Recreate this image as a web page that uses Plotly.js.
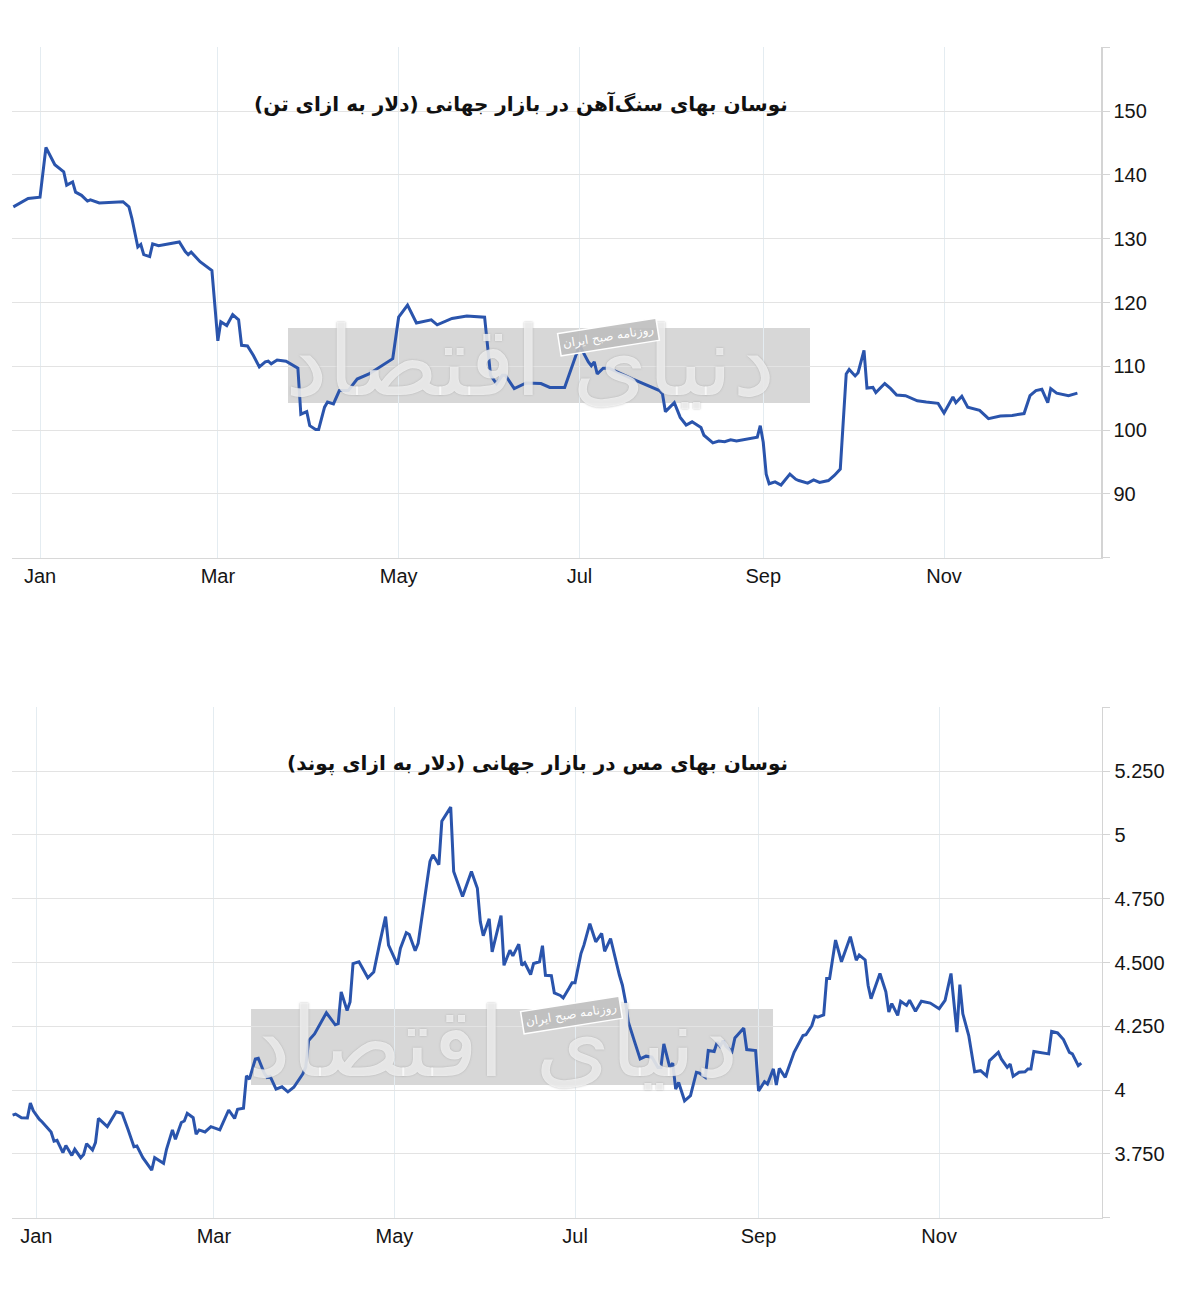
<!DOCTYPE html>
<html>
<head>
<meta charset="utf-8">
<script src="https://cdn.plot.ly/plotly-3.0.1.min.js"></script>
<style>html,body{margin:0;padding:0;background:#fff;}#chart{width:1200px;height:1289px;}</style>
</head>
<body>
<div id="chart"></div>
<script>
// ---- Iron ore (USD per tonne) ----
var ironDates = ["2023-12-23","2023-12-25","2023-12-28","2024-01-01","2024-01-03","2024-01-06","2024-01-09","2024-01-10","2024-01-12","2024-01-13","2024-01-15","2024-01-17","2024-01-18","2024-01-21","2024-01-29","2024-01-31","2024-02-01","2024-02-03","2024-02-04","2024-02-05","2024-02-07","2024-02-08","2024-02-10","2024-02-17","2024-02-19","2024-02-20","2024-02-21","2024-02-24","2024-02-28","2024-03-01","2024-03-02","2024-03-04","2024-03-06","2024-03-08","2024-03-09","2024-03-11","2024-03-13","2024-03-15","2024-03-17","2024-03-18","2024-03-19","2024-03-21","2024-03-24","2024-03-28","2024-03-29","2024-03-31","2024-04-01","2024-04-03","2024-04-04","2024-04-06","2024-04-07","2024-04-09","2024-04-11","2024-04-14","2024-04-17","2024-04-21","2024-04-29","2024-05-01","2024-05-04","2024-05-07","2024-05-12","2024-05-14","2024-05-19","2024-05-24","2024-05-30","2024-06-01","2024-06-03","2024-06-05","2024-06-06","2024-06-09","2024-06-13","2024-06-18","2024-06-21","2024-06-26","2024-07-01","2024-07-04","2024-07-05","2024-07-06","2024-07-07","2024-07-09","2024-07-11","2024-07-19","2024-07-28","2024-07-29","2024-07-30","2024-08-02","2024-08-04","2024-08-06","2024-08-08","2024-08-11","2024-08-12","2024-08-15","2024-08-17","2024-08-19","2024-08-21","2024-08-23","2024-08-30","2024-08-31","2024-09-01","2024-09-02","2024-09-03","2024-09-05","2024-09-07","2024-09-10","2024-09-12","2024-09-13","2024-09-16","2024-09-18","2024-09-20","2024-09-23","2024-09-25","2024-09-27","2024-09-29","2024-09-30","2024-10-02","2024-10-03","2024-10-05","2024-10-06","2024-10-08","2024-10-09","2024-10-12","2024-10-14","2024-10-16","2024-10-19","2024-10-23","2024-10-26","2024-10-30","2024-11-01","2024-11-04","2024-11-05","2024-11-07","2024-11-09","2024-11-13","2024-11-16","2024-11-20","2024-11-24","2024-11-28","2024-11-30","2024-12-02","2024-12-04","2024-12-06","2024-12-07","2024-12-09","2024-12-13","2024-12-16"];
var ironValues = [135.0,135.5,136.3,136.5,144.3,141.6,140.5,138.4,138.9,137.3,136.8,135.9,136.1,135.6,135.8,135.0,133.2,128.7,129.1,127.5,127.2,129.2,128.9,129.5,128.0,127.5,127.9,126.4,125.0,114.0,117.0,116.4,118.1,117.3,113.3,113.2,111.7,109.9,110.7,110.8,110.4,111.0,110.8,109.7,102.5,102.9,100.7,100.1,100.1,103.6,104.4,104.1,106.2,106.2,108.0,108.8,111.2,117.7,119.6,116.8,117.3,116.5,117.5,117.9,117.7,108.6,107.3,108.6,108.6,106.5,107.4,107.3,106.7,106.7,113.3,110.7,110.1,110.7,108.8,109.7,109.7,108.0,106.2,105.7,102.9,104.3,102.0,100.8,101.3,100.4,99.2,98.0,98.3,98.2,98.5,98.3,98.9,100.7,98.1,93.1,91.6,91.9,91.4,93.1,92.3,92.1,91.7,92.2,91.8,92.1,92.9,93.9,108.8,109.5,108.5,109.0,112.5,106.6,106.7,105.9,107.3,106.5,105.5,105.4,104.6,104.4,104.2,102.7,105.2,104.3,105.3,103.6,103.1,101.8,102.2,102.3,102.6,105.4,106.2,106.4,104.3,106.5,105.8,105.4,105.8];

// ---- Copper (USD per pound) ----
var copperDates = ["2023-12-24","2023-12-25","2023-12-27","2023-12-29","2023-12-30","2023-12-31","2024-01-02","2024-01-03","2024-01-06","2024-01-07","2024-01-08","2024-01-10","2024-01-11","2024-01-13","2024-01-14","2024-01-16","2024-01-17","2024-01-18","2024-01-20","2024-01-21","2024-01-22","2024-01-25","2024-01-28","2024-01-30","2024-02-01","2024-02-03","2024-02-04","2024-02-06","2024-02-09","2024-02-10","2024-02-13","2024-02-14","2024-02-16","2024-02-17","2024-02-19","2024-02-20","2024-02-21","2024-02-23","2024-02-24","2024-02-25","2024-02-27","2024-02-29","2024-03-03","2024-03-06","2024-03-08","2024-03-09","2024-03-11","2024-03-12","2024-03-13","2024-03-15","2024-03-16","2024-03-18","2024-03-19","2024-03-20","2024-03-22","2024-03-24","2024-03-26","2024-03-28","2024-03-31","2024-04-01","2024-04-02","2024-04-04","2024-04-08","2024-04-11","2024-04-12","2024-04-13","2024-04-15","2024-04-16","2024-04-17","2024-04-19","2024-04-22","2024-04-24","2024-04-26","2024-04-28","2024-04-29","2024-05-02","2024-05-03","2024-05-05","2024-05-06","2024-05-08","2024-05-09","2024-05-11","2024-05-13","2024-05-14","2024-05-16","2024-05-17","2024-05-20","2024-05-21","2024-05-24","2024-05-27","2024-05-29","2024-05-30","2024-05-31","2024-06-02","2024-06-03","2024-06-06","2024-06-07","2024-06-09","2024-06-10","2024-06-12","2024-06-13","2024-06-14","2024-06-16","2024-06-17","2024-06-19","2024-06-20","2024-06-21","2024-06-23","2024-06-24","2024-06-26","2024-06-27","2024-06-29","2024-06-30","2024-07-01","2024-07-03","2024-07-04","2024-07-06","2024-07-08","2024-07-10","2024-07-11","2024-07-13","2024-07-16","2024-07-17","2024-07-18","2024-07-19","2024-07-21","2024-07-23","2024-07-25","2024-07-27","2024-07-29","2024-07-30","2024-07-31","2024-08-02","2024-08-03","2024-08-04","2024-08-05","2024-08-07","2024-08-09","2024-08-11","2024-08-12","2024-08-14","2024-08-15","2024-08-17","2024-08-18","2024-08-19","2024-08-20","2024-08-21","2024-08-23","2024-08-24","2024-08-27","2024-08-28","2024-08-31","2024-09-01","2024-09-03","2024-09-04","2024-09-06","2024-09-07","2024-09-08","2024-09-10","2024-09-13","2024-09-16","2024-09-17","2024-09-19","2024-09-20","2024-09-21","2024-09-23","2024-09-24","2024-09-25","2024-09-27","2024-09-29","2024-10-02","2024-10-04","2024-10-05","2024-10-07","2024-10-08","2024-10-09","2024-10-12","2024-10-14","2024-10-15","2024-10-16","2024-10-18","2024-10-19","2024-10-21","2024-10-22","2024-10-24","2024-10-26","2024-10-29","2024-11-01","2024-11-03","2024-11-05","2024-11-07","2024-11-08","2024-11-09","2024-11-11","2024-11-13","2024-11-15","2024-11-17","2024-11-18","2024-11-21","2024-11-22","2024-11-24","2024-11-25","2024-11-26","2024-11-28","2024-11-30","2024-12-01","2024-12-02","2024-12-03","2024-12-07","2024-12-08","2024-12-09","2024-12-11","2024-12-13","2024-12-15","2024-12-16","2024-12-18","2024-12-19"];
var copperValues = [3.902,3.906,3.892,3.891,3.949,3.919,3.886,3.875,3.836,3.800,3.803,3.755,3.783,3.744,3.768,3.735,3.748,3.790,3.765,3.794,3.889,3.857,3.915,3.909,3.846,3.778,3.781,3.735,3.686,3.735,3.713,3.768,3.844,3.807,3.873,3.879,3.909,3.892,3.827,3.844,3.836,3.857,3.844,3.922,3.889,3.925,3.929,4.056,4.043,4.122,4.125,4.067,4.050,4.054,4.004,4.013,3.993,4.011,4.063,4.089,4.194,4.220,4.303,4.256,4.260,4.385,4.312,4.345,4.496,4.503,4.440,4.463,4.575,4.680,4.568,4.492,4.555,4.617,4.610,4.546,4.575,4.739,4.896,4.922,4.883,5.054,5.109,4.857,4.759,4.857,4.791,4.660,4.605,4.671,4.542,4.684,4.489,4.548,4.526,4.572,4.489,4.499,4.453,4.496,4.503,4.566,4.450,4.448,4.381,4.371,4.361,4.400,4.421,4.421,4.535,4.568,4.652,4.581,4.614,4.544,4.594,4.450,4.411,4.350,4.267,4.194,4.122,4.133,4.129,4.089,4.089,4.181,4.089,4.106,4.004,4.030,3.958,3.978,4.070,4.067,4.050,4.155,4.151,4.188,4.172,4.194,4.172,4.151,4.204,4.243,4.159,4.155,3.997,4.033,4.024,4.083,4.020,4.085,4.050,4.148,4.214,4.217,4.253,4.290,4.286,4.295,4.437,4.437,4.588,4.503,4.601,4.509,4.529,4.510,4.411,4.358,4.457,4.385,4.306,4.339,4.293,4.348,4.332,4.352,4.309,4.348,4.341,4.319,4.352,4.457,4.227,4.413,4.299,4.214,4.072,4.076,4.056,4.115,4.148,4.122,4.089,4.102,4.054,4.070,4.072,4.083,4.083,4.151,4.142,4.142,4.230,4.224,4.198,4.148,4.142,4.096,4.106];

// ---- Axis ticks and labels ----
var ironTickVals = [80, 90, 100, 110, 120, 130, 140, 150, 160];
var ironTickText = ["", "90", "100", "110", "120", "130", "140", "150", ""];
var copperTickVals = [3.5, 3.75, 4, 4.25, 4.5, 4.75, 5, 5.25, 5.5];
var copperTickText = ["", "3.750", "4", "4.250", "4.500", "4.750", "5", "5.250", ""];
var ironTitle = "نوسان بهای سنگ‌آهن در بازار جهانی (دلار به ازای تن)";
var copperTitle = "نوسان بهای مس در بازار جهانی (دلار به ازای پوند)";
var watermarkText = "دنیای اقتصاد";
var watermarkLabel = "روزنامه صبح ایران";

var lineColor = "#2a54ac";
var tickFont = {family: "Liberation Sans, Arial, sans-serif", size: 20, color: "#151515"};

var traces = [
  {x: ironDates, y: ironValues, type: "scatter", mode: "lines", xaxis: "x", yaxis: "y",
   line: {color: lineColor, width: 3}, hoverinfo: "x+y"},
  {x: copperDates, y: copperValues, type: "scatter", mode: "lines", xaxis: "x2", yaxis: "y2",
   line: {color: lineColor, width: 3}, hoverinfo: "x+y"}
];

function xAxis(domain, anchor, range) {
  return {domain: domain, anchor: anchor, type: "date", range: range,
    tick0: "2024-01-01", dtick: "M2", tickformat: "%b", ticks: "",
    showgrid: true, gridcolor: "#e4ecf1", gridwidth: 1,
    showline: true, linecolor: "#d8d8d8", linewidth: 1.5,
    zeroline: false, tickfont: tickFont, ticklabelstandoff: 0};
}
function yAxis(domain, anchor, range, vals, text) {
  return {domain: domain, anchor: anchor, side: "right", range: range,
    tickmode: "array", tickvals: vals, ticktext: text,
    showgrid: true, gridcolor: "#e3e3e3", gridwidth: 1,
    showline: true, linecolor: "#d4d4d4", linewidth: 1.5,
    ticks: "outside", ticklen: 7, tickcolor: "#d4d4d4", tickwidth: 1,
    zeroline: false, tickfont: tickFont, ticklabelstandoff: 0};
}

var layout = {
  width: 1200, height: 1289,
  margin: {l: 0, r: 0, t: 0, b: 0},
  paper_bgcolor: "#ffffff", plot_bgcolor: "#ffffff",
  showlegend: false,
  xaxis: xAxis([0.01, 0.9175], "y", ["2023-12-22 13:12", "2024-12-23 23:00"]),
  yaxis: yAxis([0.5673, 0.9633], "x", [80, 160], ironTickVals, ironTickText),
  xaxis2: xAxis([0.01, 0.9183], "y2", ["2023-12-23 19:12", "2024-12-26 00:00"]),
  yaxis2: yAxis([0.05531, 0.45128], "x2", [3.5, 5.5], copperTickVals, copperTickText),
  shapes: [
    {type: "rect", xref: "paper", yref: "paper", x0: 0.24, x1: 0.675, y0: 0.6874, y1: 0.7455,
     fillcolor: "rgba(205,205,205,0.8)", line: {width: 0}, layer: "below"},
    {type: "rect", xref: "paper", yref: "paper", x0: 0.2092, x1: 0.6442, y0: 0.1583, y1: 0.2172,
     fillcolor: "rgba(205,205,205,0.8)", line: {width: 0}, layer: "below"}
  ],
  annotations: [
    {xref: "paper", yref: "paper", x: 790/1200, y: 1 - 104/1289, xanchor: "right", yanchor: "middle",
     text: "<b>" + ironTitle + "</b>", showarrow: false,
     font: {family: "DejaVu Sans, sans-serif", size: 20, color: "#111"}},
    {xref: "paper", yref: "paper", x: 790/1200, y: 1 - 763/1289, xanchor: "right", yanchor: "middle",
     text: "<b>" + copperTitle + "</b>", showarrow: false,
     font: {family: "DejaVu Sans, sans-serif", size: 20, color: "#111"}},
    {xref: "paper", yref: "paper", x: 530/1200, y: 1 - 362/1289, xanchor: "center", yanchor: "middle",
     text: watermarkText, showarrow: false,
     font: {family: "DejaVu Sans, sans-serif", size: 96, color: "rgba(255,255,255,0.7)",
            shadow: "0 0 2px #9a9a9a"}},
    {xref: "paper", yref: "paper", x: 493/1200, y: 1 - 1043/1289, xanchor: "center", yanchor: "middle",
     text: watermarkText, showarrow: false,
     font: {family: "DejaVu Sans, sans-serif", size: 96, color: "rgba(255,255,255,0.7)",
            shadow: "0 0 2px #9a9a9a"}},
    {xref: "paper", yref: "paper", x: 608/1200, y: 1 - 337/1289, xanchor: "center", yanchor: "middle",
     text: watermarkLabel, showarrow: false, textangle: -9,
     bgcolor: "rgba(190,190,190,0.9)", bordercolor: "#ffffff", borderwidth: 1.5, borderpad: 3,
     font: {family: "DejaVu Sans, sans-serif", size: 12, color: "#ffffff"}},
    {xref: "paper", yref: "paper", x: 571/1200, y: 1 - 1015/1289, xanchor: "center", yanchor: "middle",
     text: watermarkLabel, showarrow: false, textangle: -9,
     bgcolor: "rgba(190,190,190,0.9)", bordercolor: "#ffffff", borderwidth: 1.5, borderpad: 3,
     font: {family: "DejaVu Sans, sans-serif", size: 12, color: "#ffffff"}}
  ]
};

Plotly.newPlot("chart", traces, layout, {staticPlot: true, displayModeBar: false});
</script>
</body>
</html>
